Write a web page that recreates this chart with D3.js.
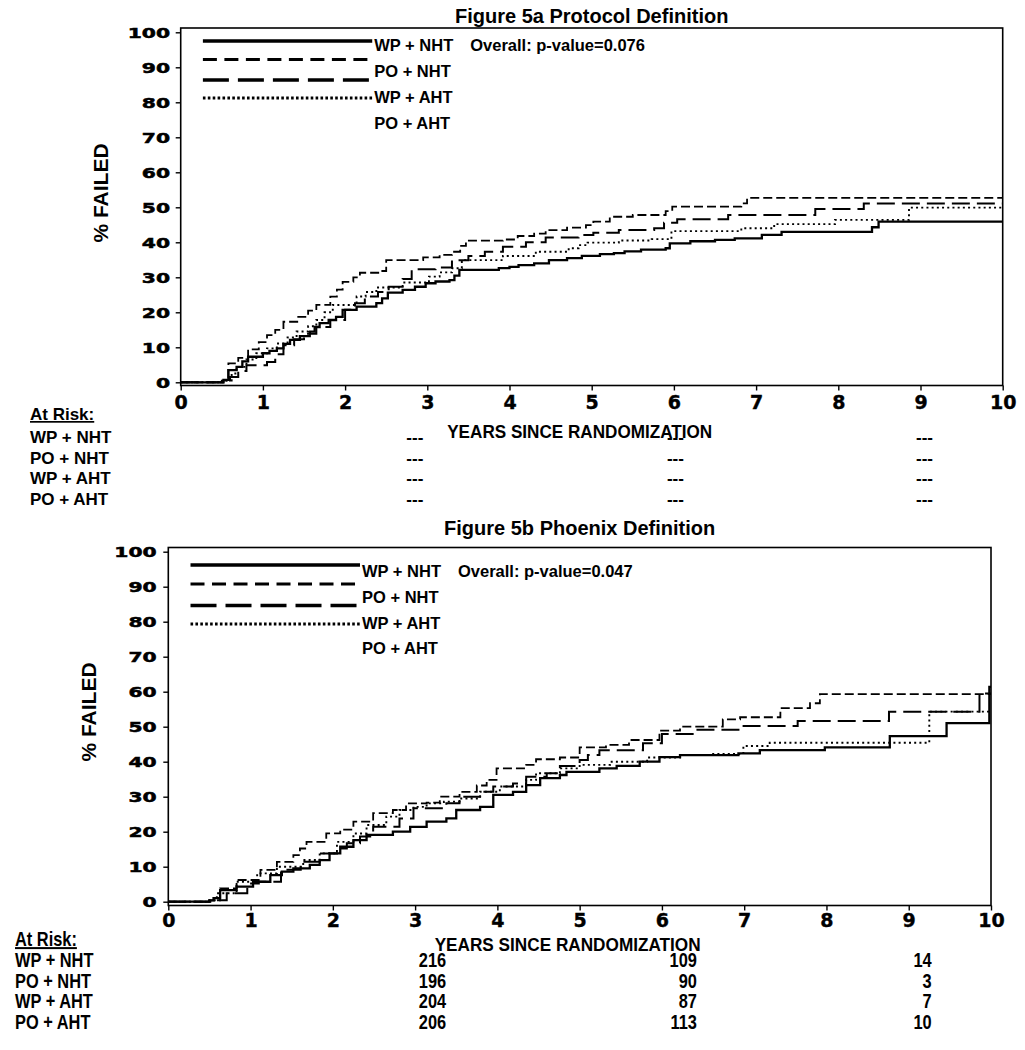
<!DOCTYPE html>
<html>
<head>
<meta charset="utf-8">
<script src="https://cdn.jsdelivr.net/npm/d3@7"></script>
<style>
  html, body { margin: 0; padding: 0; background: #fff; }
  svg { display: block; }
</style>
</head>
<body>
<svg id="chart" width="1025" height="1050"></svg>
<script>
// ---------------- DATA ----------------
const categories = ["WP + NHT", "PO + NHT", "WP + AHT", "PO + AHT"];
const xTicks = [0, 1, 2, 3, 4, 5, 6, 7, 8, 9, 10];
const yTicks = [0, 10, 20, 30, 40, 50, 60, 70, 80, 90, 100];
const titles = ["Figure 5a Protocol Definition", "Figure 5b Phoenix Definition"];
const pValues = ["Overall: p-value=0.076", "Overall: p-value=0.047"];
const atRiskYears = [3, 6, 9];

// Figure 5a (Protocol) step points [years, % failed]
const protoWPNHT = [[0,0],[0.52,0.7],[0.58,3.5],[0.68,4.4],[0.75,6.0],[0.82,7.3],[1.0,8.3],[1.08,9.0],[1.17,9.7],[1.25,11.0],[1.33,12.1],[1.45,13.2],[1.57,14.5],[1.63,15.8],[1.69,16.9],[1.8,17.8],[1.89,18.7],[1.97,20.7],[2.14,21.6],[2.38,22.6],[2.45,24.0],[2.52,25.6],[2.7,26.4],[2.85,27.3],[2.98,28.3],[3.1,28.8],[3.27,29.2],[3.33,30.5],[3.39,32.1],[3.87,32.6],[4.0,33.0],[4.11,33.5],[4.3,34.0],[4.48,34.9],[4.7,35.5],[4.88,36.1],[5.1,36.6],[5.27,36.9],[5.4,37.4],[5.6,37.9],[5.9,38.3],[5.95,39.7],[6.2,40.3],[6.5,40.7],[6.74,41.1],[7.07,42.1],[7.31,43.0],[8.41,44.3],[8.49,45.9],[10,45.9]];
const protoPONHT = [[0,0],[0.5,0.5],[0.58,5.4],[0.7,7.0],[0.82,9.4],[0.95,11.5],[1.05,13.5],[1.15,15.0],[1.25,17.3],[1.43,18.7],[1.55,20.5],[1.65,22.1],[1.82,24.5],[1.9,26.5],[1.97,28.7],[2.1,30.0],[2.18,31.3],[2.42,31.8],[2.5,34.9],[2.95,35.7],[3.15,36.4],[3.3,37.3],[3.4,39.0],[3.47,40.5],[3.92,40.8],[4.1,41.8],[4.3,42.5],[4.44,43.5],[4.7,44.2],[4.93,44.9],[5.02,45.9],[5.22,47.3],[5.5,47.8],[5.9,48.9],[5.98,50.2],[6.82,51.1],[6.89,52.7],[10,52.7]];
const protoWPAHT = [[0,0],[0.55,0.5],[0.6,1.5],[0.7,3.2],[0.8,4.9],[1.05,5.8],[1.15,8.0],[1.25,10.6],[1.38,12.3],[1.5,13.9],[1.65,15.8],[1.82,17.8],[2.0,20.7],[2.12,22.6],[2.24,24.5],[2.4,25.8],[2.53,27.3],[2.7,29.5],[2.81,32.3],[3.1,32.8],[3.3,34.9],[3.5,36.1],[3.7,37.3],[3.92,38.7],[4.2,40.0],[4.44,41.4],[4.84,42.1],[5.02,42.7],[5.33,43.5],[5.76,44.0],[5.88,45.6],[6.04,46.6],[6.66,47.8],[7.72,49.5],[8.31,51.1],[10,51.1]];
const protoPOAHT = [[0,0],[0.55,0.5],[0.62,2.5],[0.68,4.4],[0.8,6.5],[0.92,8.3],[1.05,9.7],[1.17,11.1],[1.3,12.8],[1.41,14.5],[1.55,16.0],[1.65,17.8],[1.75,20.0],[1.85,22.1],[2.14,24.5],[2.25,25.8],[2.38,27.1],[2.7,28.5],[3.02,30.2],[3.15,31.4],[3.3,32.6],[3.42,34.9],[3.92,36.1],[4.32,37.3],[4.72,38.3],[4.84,39.2],[4.95,39.9],[5.33,40.5],[5.73,40.9],[5.97,43.2],[6.82,44.0],[7.22,45.2],[7.96,46.4],[8.86,49.9],[10,49.9]];

// Figure 5b (Phoenix)
const phxWPNHT = [[0,0],[0.5,0.4],[0.55,1.0],[0.63,3.3],[0.83,4.3],[1.03,5.7],[1.24,7.6],[1.38,8.6],[1.52,9.5],[1.72,10.5],[1.84,11.9],[1.96,13.8],[2.09,15.7],[2.25,17.6],[2.41,19.1],[2.73,20.0],[2.94,21.4],[3.14,22.9],[3.38,23.8],[3.5,26.2],[3.79,27.1],[3.95,30.5],[4.19,31.4],[4.35,33.3],[4.52,35.3],[4.76,36.2],[4.84,37.1],[5.24,38.1],[5.45,38.8],[5.73,40.0],[5.97,41.3],[6.22,41.9],[6.93,42.4],[7.19,43.3],[7.98,44.1],[8.77,47.3],[9.46,51.0],[9.98,61.4],[10,61.4]];
const phxPONHT = [[0,0],[0.5,0.4],[0.63,3.8],[0.83,6.2],[1.12,9.1],[1.32,11.4],[1.52,13.3],[1.6,15.2],[1.68,17.1],[1.92,19.5],[2.09,20.6],[2.25,22.9],[2.49,25.3],[2.73,26.2],[2.89,28.1],[3.14,28.3],[3.3,30.0],[3.54,31.4],[3.75,33.2],[3.87,34.8],[3.99,38.1],[4.35,39.1],[4.47,40.7],[4.76,41.2],[5.0,44.1],[5.32,44.8],[5.6,46.2],[5.97,48.9],[6.22,50.0],[6.74,52.1],[6.95,52.7],[7.44,55.3],[7.8,56.7],[7.92,59.3],[10,59.3]];
const phxWPAHT = [[0,0],[0.55,0.4],[0.71,2.4],[0.96,5.2],[1.1,5.7],[1.37,9.1],[1.61,11.4],[1.84,13.8],[2.05,15.2],[2.17,16.7],[2.33,18.6],[2.49,21.4],[2.81,23.8],[2.98,26.7],[3.38,28.1],[3.54,30.0],[3.79,31.4],[3.95,32.9],[4.19,33.8],[4.35,35.7],[4.6,36.7],[4.76,38.8],[5.0,40.5],[5.1,41.9],[5.24,43.3],[5.77,45.3],[6.0,47.9],[6.4,49.1],[6.97,50.2],[7.65,51.6],[8.76,54.3],[9.86,59.5],[10,59.5]];
const phxPOAHT = [[0,0],[0.5,0.4],[0.59,2.4],[0.83,5.7],[1.08,8.1],[1.32,10.0],[1.64,11.9],[1.84,13.8],[2.05,17.1],[2.25,19.5],[2.41,21.9],[2.65,24.3],[2.81,26.2],[2.98,27.1],[3.14,28.1],[3.35,28.6],[3.54,29.5],[3.79,31.4],[4.03,32.9],[4.35,34.8],[4.47,36.7],[4.76,38.1],[5.0,39.1],[5.37,40.0],[5.82,41.2],[6.22,41.9],[6.6,42.2],[6.99,44.5],[7.31,45.4],[9.25,54.3],[10,54.3]];

// Numbers at risk
const protoAtRisk = [["---","---","---"],["---","---","---"],["---","---","---"],["---","---","---"]];
const phxAtRisk = [["216","109","14"],["196","90","3"],["204","87","7"],["206","113","10"]];

// ---------------- LAYOUT / STYLE ----------------
const lineStyles = [
  { w: 2.3, dash: null,      lw: 3.6, ldash: null },
  { w: 1.8, dash: "9,4",     lw: 3.0, ldash: "14,7.5" },
  { w: 2.0, dash: "18,7",    lw: 3.6, ldash: "26,9" },
  { w: 1.9, dash: "2,3.2",   lw: 3.0, ldash: "2.6,2.3" }
];

const panels = [
  {
    title: titles[0], pval: pValues[0],
    series: [protoWPNHT, protoPONHT, protoWPAHT, protoPOAHT],
    atRisk: protoAtRisk,
    x0: 180.7, x1: 1002.7, yZero: 382.3, y100: 32.3, frameTop: 28, axisY: 385.5,
    titleY: 23, ylabX: 108, ylabY: 193, yLabGap: 10.7, xLabY: 23,
    legLineY: [41, 59.5, 80, 98], legTextY: [50.5, 77, 103, 129],
    xTitleY: 438, xTitleLen: 265,
    tableX: 30, tableHeadY: 420, tableRowY: [443, 463.5, 484, 505],
    colOffsets: [-4, 10, 12.5], narrow: false
  },
  {
    title: titles[1], pval: pValues[1],
    series: [phxWPNHT, phxPONHT, phxWPAHT, phxPOAHT],
    atRisk: phxAtRisk,
    x0: 168.3, x1: 991, yZero: 901.7, y100: 551.7, frameTop: 547.5, axisY: 905.5,
    titleY: 535, ylabX: 96, ylabY: 712, yLabGap: 11.6, xLabY: 21,
    legLineY: [565, 584, 605.5, 624], legTextY: [577, 603, 629, 654],
    xTitleY: 951, xTitleLen: 266,
    tableX: 15, tableHeadY: 946, tableRowY: [967, 987.5, 1008, 1029],
    colOffsets: [31, 35, 23], narrow: true
  }
];

const svg = d3.select("#chart");
svg.append("rect").attr("width", 1025).attr("height", 1050).attr("fill", "#fff");

const ARIAL = "'Liberation Sans', Arial, sans-serif";
const WIDE = "'DejaVu Sans', Verdana, sans-serif";

panels.forEach(p => {
  const g = svg.append("g");
  const x = d3.scaleLinear().domain([0, 10]).range([p.x0, p.x1]);
  const y = d3.scaleLinear().domain([0, 100]).range([p.yZero, p.y100]);

  // frame
  g.append("rect")
    .attr("x", p.x0).attr("y", p.frameTop)
    .attr("width", p.x1 - p.x0).attr("height", p.axisY - p.frameTop)
    .attr("fill", "none").attr("stroke", "#000").attr("stroke-width", 1.6);

  // y axis
  const ya = g.append("g").attr("transform", `translate(${p.x0},0)`)
    .call(d3.axisLeft(y).tickValues(yTicks).tickSize(5).tickSizeOuter(0));
  ya.select(".domain").remove();
  ya.selectAll(".tick line").attr("stroke", "#000").attr("stroke-width", 1.4);
  ya.selectAll(".tick text")
    .attr("font-family", WIDE).attr("font-weight", "bold").attr("font-size", 14)
    .attr("fill", "#000").attr("stroke", "#000").attr("stroke-width", 0.5)
    .attr("transform", "scale(1.45,1)")
    .attr("x", -p.yLabGap / 1.45).attr("dy", "0.36em");

  // x axis
  const xa = g.append("g").attr("transform", `translate(0,${p.axisY})`)
    .call(d3.axisBottom(x).tickValues(xTicks).tickSize(5).tickSizeOuter(0));
  xa.select(".domain").remove();
  xa.selectAll(".tick line").attr("stroke", "#000").attr("stroke-width", 1.4);
  xa.selectAll(".tick text")
    .attr("font-family", WIDE).attr("font-weight", "bold").attr("font-size", 19)
    .attr("fill", "#000").attr("stroke", "#000").attr("stroke-width", 0.4)
    .attr("y", p.xLabY).attr("dy", 0);

  // title
  g.append("text").attr("x", (p.x0 + p.x1) / 2).attr("y", p.titleY)
    .attr("text-anchor", "middle").attr("font-family", ARIAL)
    .attr("font-weight", "bold").attr("font-size", 20).text(p.title);

  // y title
  g.append("text")
    .attr("transform", `translate(${p.ylabX},${p.ylabY}) rotate(-90)`)
    .attr("text-anchor", "middle").attr("font-family", ARIAL)
    .attr("font-weight", "bold").attr("font-size", 21).text("% FAILED");

  // curves
  const line = d3.line().x(d => x(d[0])).y(d => y(d[1])).curve(d3.curveStepAfter);
  p.series.forEach((s, i) => {
    const st = lineStyles[i];
    g.append("path").datum(s).attr("d", line)
      .attr("fill", "none").attr("stroke", "#000")
      .attr("stroke-width", st.w)
      .attr("stroke-dasharray", st.dash)
      .attr("stroke-linejoin", "miter");
  });

  // legend
  const lx0 = x(0.27), lx1 = x(2.33);
  categories.forEach((c, i) => {
    const st = lineStyles[i];
    g.append("line").attr("x1", lx0).attr("x2", lx1)
      .attr("y1", p.legLineY[i]).attr("y2", p.legLineY[i])
      .attr("stroke", "#000").attr("stroke-width", st.lw)
      .attr("stroke-dasharray", st.ldash);
    g.append("text").attr("x", lx1 + 2).attr("y", p.legTextY[i])
      .attr("font-family", ARIAL).attr("font-weight", "bold").attr("font-size", 16.5)
      .text(c);
  });
  g.append("text").attr("x", lx1 + 98).attr("y", p.legTextY[0])
    .attr("font-family", ARIAL).attr("font-weight", "bold").attr("font-size", 16.5)
    .text(p.pval);

  // x title
  g.append("text").attr("x", (p.x0 + p.x1) / 2 - 12).attr("y", p.xTitleY)
    .attr("text-anchor", "middle").attr("font-family", ARIAL)
    .attr("font-weight", "bold").attr("font-size", 19)
    .attr("textLength", p.xTitleLen).attr("lengthAdjust", "spacingAndGlyphs")
    .text("YEARS SINCE RANDOMIZATION");

  // at-risk table
  const sx = p.narrow ? 0.82 : 1;
  const fs = p.narrow ? 20 : 17;
  const addText = (tx, ty, txt, anchor) => {
    return g.append("text")
      .attr("transform", `translate(${tx},${ty}) scale(${sx},1)`)
      .attr("text-anchor", anchor)
      .attr("font-family", ARIAL).attr("font-weight", "bold").attr("font-size", fs)
      .text(txt);
  };
  addText(p.tableX, p.tableHeadY, "At Risk:", "start").style("text-decoration", "underline");
  categories.forEach((c, i) => {
    addText(p.tableX, p.tableRowY[i], c, "start");
    atRiskYears.forEach((yr, j) => {
      addText(x(yr) + p.colOffsets[j], p.tableRowY[i], p.atRisk[i][j], "end");
    });
  });
});
</script>
</body>
</html>
